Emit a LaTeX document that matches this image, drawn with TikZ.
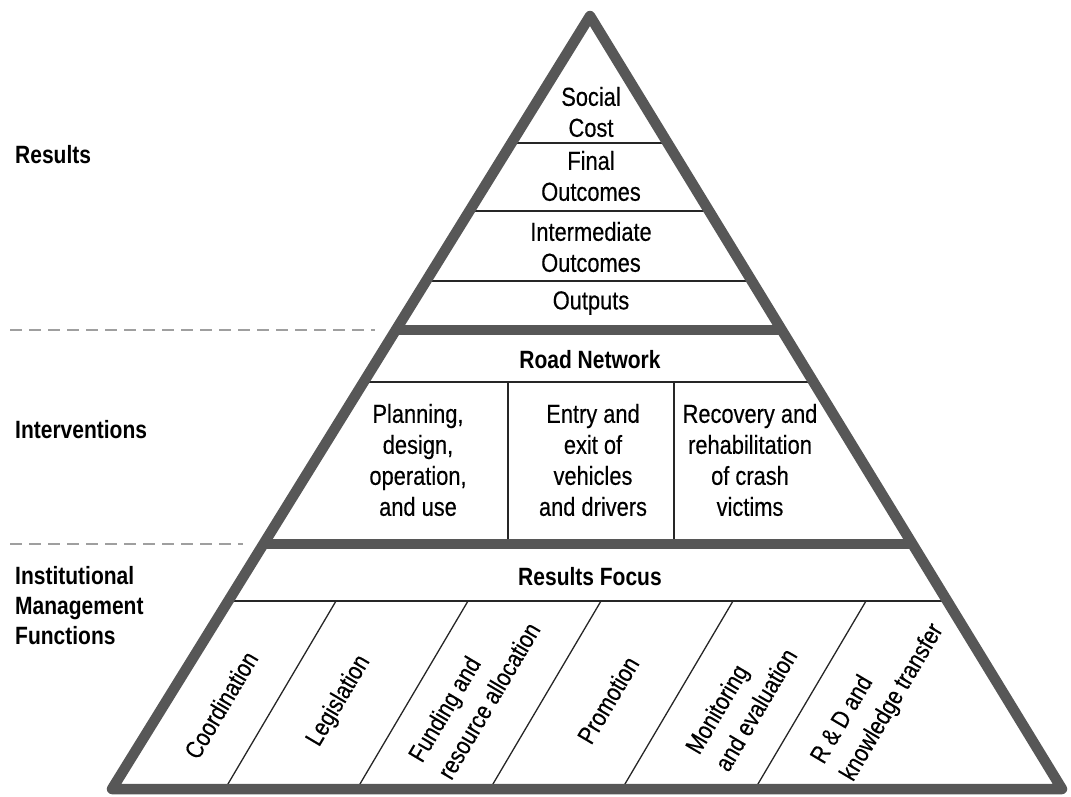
\documentclass[tikz,border=0pt]{standalone}
\usepackage{fontspec}
\setmainfont{Liberation Sans}[FakeStretch=0.84,UprightFeatures={FakeBold=0.35}]
\definecolor{pyrgray}{HTML}{575757}
\tikzset{outline/.style={draw=pyrgray,line width=10.5pt,line join=round},
         band/.style={draw=pyrgray,line width=10pt},
         rule/.style={draw=black!85,line width=1.3pt},
         guide/.style={draw=gray!75,line width=1.3pt,dash pattern=on 12pt off 7pt},
         tier/.style={align=center,inner sep=0pt,font=\fontsize{26}{31}\selectfont},
         head/.style={inner sep=0pt,font=\bfseries\fontsize{25}{30}\selectfont},
         side/.style={align=left,anchor=west,inner sep=0pt,font=\bfseries\fontsize{25}{30}\selectfont},
         func/.style={align=left,rotate=59.4,inner sep=0pt,font=\fontsize{25}{34}\selectfont}}
\begin{document}
\begin{tikzpicture}[x=1pt,y=-1pt]
  \useasboundingbox (0,0) rectangle (1071,796);
  \coordinate (top) at (590,16);
  \coordinate (bl) at (112,789);
  \coordinate (br) at (1062,789);
  % inner rules
  \begin{scope}
    \clip (top) -- (bl) -- (br) -- cycle;
    \foreach \y in {143,211,281,382,601}
      \draw[rule] (0,\y) -- (1071,\y);
    \foreach \x in {508,674}
      \draw[rule] (\x,382) -- (\x,545);
    \foreach \t [count=\i] in {336,468,601,733,866}
      \draw[rule] (\t,601) coordinate (d\i) -- ++(-111,188);
    \draw[band] (0,330) -- (1071,330);
    \draw[band] (0,544) -- (1071,544);
  \end{scope}
  \draw[outline] (top) -- (bl) -- (br) -- cycle;
  % guides
  \draw[guide] (10,330) -- (375,330);
  \draw[guide] (10,544) -- (243,544);
  % results
  \node[tier] (social) at (591,112) {Social\\Cost};
  \node[tier] (final) at (591,176) {Final\\Outcomes};
  \node[tier] (inter) at (591,247) {Intermediate\\Outcomes};
  \node[tier] (outputs) at (591,303) {Outputs};
  % interventions
  \node[head] (road) at (590,360) {Road Network};
  \node[tier] (plan) at (418,460) {Planning,\\design,\\operation,\\and use};
  \node[tier] (entry) at (593,460) {Entry and\\exit of\\vehicles\\and drivers};
  \node[tier] (recov) at (750,460) {Recovery and\\rehabilitation\\of crash\\victims};
  % functions
  \node[head] (focus) at (590,577) {Results Focus};
  \node[func] (coord) at (221,705) {Coordination};
  \node[func] (legis) at (339,701) {Legislation};
  \node[func] (fund) at (474,692) {Funding and\\resource allocation};
  \node[func] (promo) at (608,700) {Promotion};
  \node[func] (monit) at (741,701) {Monitoring\\and evaluation};
  \node[func] (rnd) at (878,694) {R \& D and\\knowledge transfer};
  % side labels
  \node[side] (lres) at (15,155) {Results};
  \node[side] (lint) at (15,430) {Interventions};
  \node[side] (limf) at (15,606) {Institutional\\Management\\Functions};
\end{tikzpicture}
\end{document}
